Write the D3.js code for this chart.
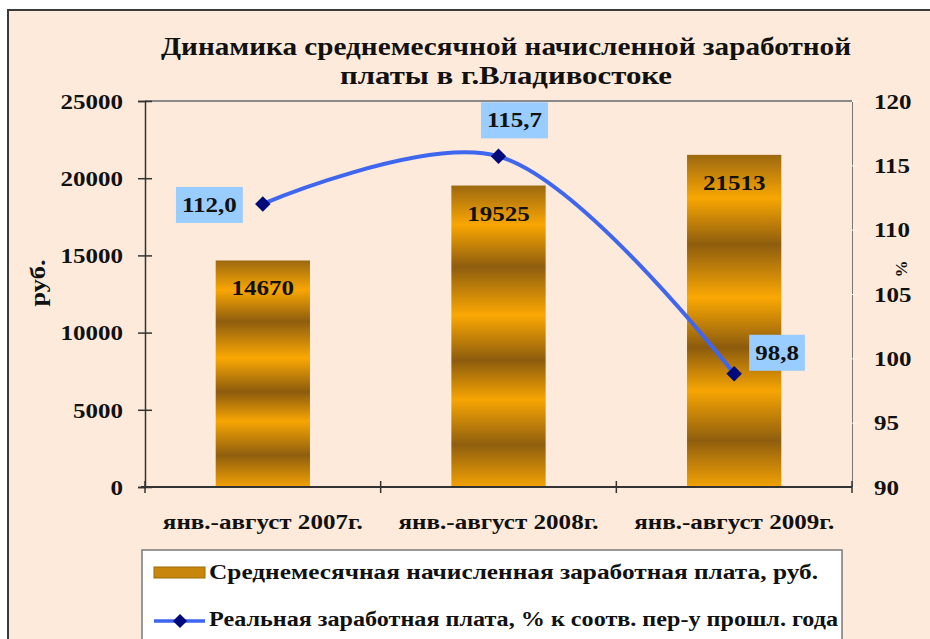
<!DOCTYPE html>
<html><head><meta charset="utf-8">
<script src="https://cdn.jsdelivr.net/npm/d3@7"></script>
<style>body{margin:0;background:#fff}text{font-family:"Liberation Serif","Times New Roman",serif;font-weight:bold;fill:#111}</style>
</head><body><svg id="c" width="930" height="639"></svg>
<script>
// ---- data ----
const titleLines = ["Динамика среднемесячной начисленной заработной", "платы в г.Владивостоке"];
const categories = ["янв.-август 2007г.", "янв.-август 2008г.", "янв.-август 2009г."];
const salary = [14670, 19525, 21513];
const realIndex = [112.0, 115.7, 98.8];
const leftTicks = [0, 5000, 10000, 15000, 20000, 25000];
const rightTicks = [90, 95, 100, 105, 110, 115, 120];
const seriesNames = ["Среднемесячная начисленная заработная плата, руб.", "Реальная заработная плата, % к соотв. пер-у прошл. года"];
const leftAxisTitle = "руб.";
const rightAxisTitle = "%";
const labelPlacement = ["left", "above", "right"];

// ---- layout ----
const svg = d3.select("#c");
const L = 145, R = 852, T = 101, B = 487;
const SX = 1.25; // horizontal text stretch

function stretch(sel, f) {
  sel.each(function () {
    const w = this.getComputedTextLength();
    this.setAttribute("textLength", w * f);
    this.setAttribute("lengthAdjust", "spacingAndGlyphs");
  });
}
function fitTo(sel, w) {
  sel.attr("textLength", w).attr("lengthAdjust", "spacingAndGlyphs");
}

const defs = svg.append("defs");
const g = defs.append("linearGradient").attr("id", "gold").attr("x1", 0).attr("y1", 0).attr("x2", 0).attr("y2", 1);
[[0, "#9C6810"], [0.13, "#F9A602"], [0.27, "#8E5D0E"], [0.43, "#FBA803"], [0.58, "#8C5B0D"],
 [0.71, "#F7A503"], [0.86, "#8F5E0E"], [1, "#F3A204"]].forEach(([o, c]) =>
  g.append("stop").attr("offset", o).attr("stop-color", c));

// frame
svg.append("rect").attr("x", 8).attr("y", 10).attr("width", 960).attr("height", 700)
  .attr("fill", "#FDEADA").attr("stroke", "#3a3a3a").attr("stroke-width", 2);

// title
svg.selectAll(".title").data(titleLines).join("text").attr("class", "title")
  .attr("x", 506).attr("y", (d, i) => 55 + i * 29).attr("text-anchor", "middle")
  .style("font-size", "26px").text(d => d)
  .each(function (d, i) { fitTo(d3.select(this), i === 0 ? 690 : 332); });

// scales
const x = d3.scaleBand().domain(categories).range([L, R]).paddingInner(0.6).paddingOuter(0.3);
const yL = d3.scaleLinear().domain([0, 25000]).range([B, T]);
const yR = d3.scaleLinear().domain([90, 120]).range([B, T]);

// plot top border
svg.append("line").attr("x1", L).attr("x2", R).attr("y1", T).attr("y2", T).attr("stroke", "#8a8a8a").attr("stroke-width", 2);

// bars
svg.selectAll(".bar").data(salary).join("rect").attr("class", "bar")
  .attr("x", (d, i) => x(categories[i])).attr("width", x.bandwidth())
  .attr("y", d => yL(d)).attr("height", d => B - yL(d)).attr("fill", "url(#gold)");

// bar labels
svg.selectAll(".blab").data(salary).join("text").attr("class", "blab")
  .attr("x", (d, i) => x(categories[i]) + x.bandwidth() / 2).attr("y", d => yL(d) + 35)
  .attr("text-anchor", "middle").style("font-size", "20px").text(d => d).call(stretch, SX);

// left axis
const axL = svg.append("g").attr("transform", `translate(${L},0)`)
  .call(d3.axisLeft(yL).tickValues(leftTicks).tickFormat(d3.format("d")).tickSize(7).tickPadding(15));
axL.select(".domain").attr("stroke", "#333").attr("stroke-width", 1.5);
axL.selectAll(".tick line").attr("x1", -7).attr("x2", 7).attr("stroke", "#333").attr("stroke-width", 1.5);
axL.selectAll(".tick text").style("font-size", "20px").style("font-family", "Liberation Serif").style("font-weight", "bold").attr("fill", "#111").attr("dy", "0.36em").call(stretch, SX);

// right axis
const axR = svg.append("g").attr("transform", `translate(${R},0)`)
  .call(d3.axisRight(yR).tickValues(rightTicks).tickSize(6).tickPadding(16));
axR.select(".domain").attr("stroke", "#777").attr("stroke-width", 1);
axR.selectAll(".tick line").attr("stroke", "#fbf5ef").attr("stroke-width", 1);
axR.selectAll(".tick text").style("font-size", "20px").style("font-family", "Liberation Serif").style("font-weight", "bold").attr("fill", "#111").attr("dy", "0.36em").call(stretch, SX);

// bottom axis
svg.append("line").attr("x1", L - 4).attr("x2", R).attr("y1", B).attr("y2", B).attr("stroke", "#333").attr("stroke-width", 2);
const bounds = d3.range(categories.length + 1).map(i => L + i * x.step());
svg.selectAll(".xt").data(bounds).join("line").attr("class", "xt")
  .attr("x1", d => d).attr("x2", d => d).attr("y1", B - 6).attr("y2", B + 6).attr("stroke", "#333").attr("stroke-width", 1.5);
svg.selectAll(".xl").data(categories).join("text").attr("class", "xl")
  .attr("x", d => x(d) + x.bandwidth() / 2).attr("y", 529).attr("text-anchor", "middle")
  .style("font-size", "20px").text(d => d).call(fitTo, 200);

// axis titles
svg.append("text").attr("transform", "translate(45,283) rotate(-90)").attr("text-anchor", "middle")
  .style("font-size", "22px").text(leftAxisTitle).call(fitTo, 47);
svg.append("text").attr("transform", "translate(907,269) rotate(-90)").attr("text-anchor", "middle")
  .style("font-size", "17px").text(rightAxisTitle);

// line
const pts = realIndex.map((v, i) => [x(categories[i]) + x.bandwidth() / 2, yR(v)]);
svg.append("path").datum(pts).attr("d", d3.line().curve(d3.curveCatmullRom.alpha(0.5)))
  .attr("fill", "none").attr("stroke", "#3F66EE").attr("stroke-width", 4);
svg.selectAll(".mk").data(pts).join("path").attr("class", "mk")
  .attr("transform", d => `translate(${d[0]},${d[1]}) rotate(45)`)
  .attr("d", d3.symbol().type(d3.symbolSquare).size(120)).attr("fill", "#000A7A");

// line labels with boxes
const fmt = d3.formatLocale({ decimal: ",", thousands: " ", grouping: [3], currency: ["", ""] }).format(".1f");
realIndex.forEach((v, i) => {
  const [px, py] = pts[i];
  const grp = svg.append("g");
  const t = grp.append("text").style("font-size", "20px").attr("text-anchor", "middle").attr("dy", "0.35em").text(fmt(v));
  const w = t.node().getComputedTextLength() * SX + 12, h = 36;
  stretch(t, SX);
  let cx, cy;
  if (labelPlacement[i] === "left") { cx = px - 20 - w / 2; cy = py + 1; }
  else if (labelPlacement[i] === "above") { cx = px + 16; cy = py - 18 - h / 2; }
  else { cx = px + 15 + w / 2; cy = py - 21; }
  t.attr("x", cx).attr("y", cy);
  grp.insert("rect", "text").attr("x", cx - w / 2).attr("y", cy - h / 2).attr("width", w).attr("height", h).attr("fill", "#99CCFF");
});

// legend
svg.append("rect").attr("x", 142).attr("y", 550).attr("width", 700).attr("height", 120)
  .attr("fill", "#fff").attr("stroke", "#7a7a7a").attr("stroke-width", 1.5);
svg.append("rect").attr("x", 154).attr("y", 567).attr("width", 51).attr("height", 11)
  .attr("fill", "#C8870C").attr("stroke", "#9C6A0A").attr("stroke-width", 1);
svg.append("line").attr("x1", 154).attr("x2", 205).attr("y1", 621).attr("y2", 621).attr("stroke", "#3F66EE").attr("stroke-width", 3.5);
svg.append("path").attr("transform", "translate(180,621) rotate(45)").attr("d", d3.symbol().type(d3.symbolSquare).size(100)).attr("fill", "#000A7A");
svg.selectAll(".lg").data(seriesNames).join("text").attr("class", "lg")
  .attr("x", 209).attr("y", (d, i) => 579 + i * 47).style("font-size", "20px").text(d => d)
  .each(function (d, i) { fitTo(d3.select(this), i === 0 ? 609 : 629); });
</script></body></html>
